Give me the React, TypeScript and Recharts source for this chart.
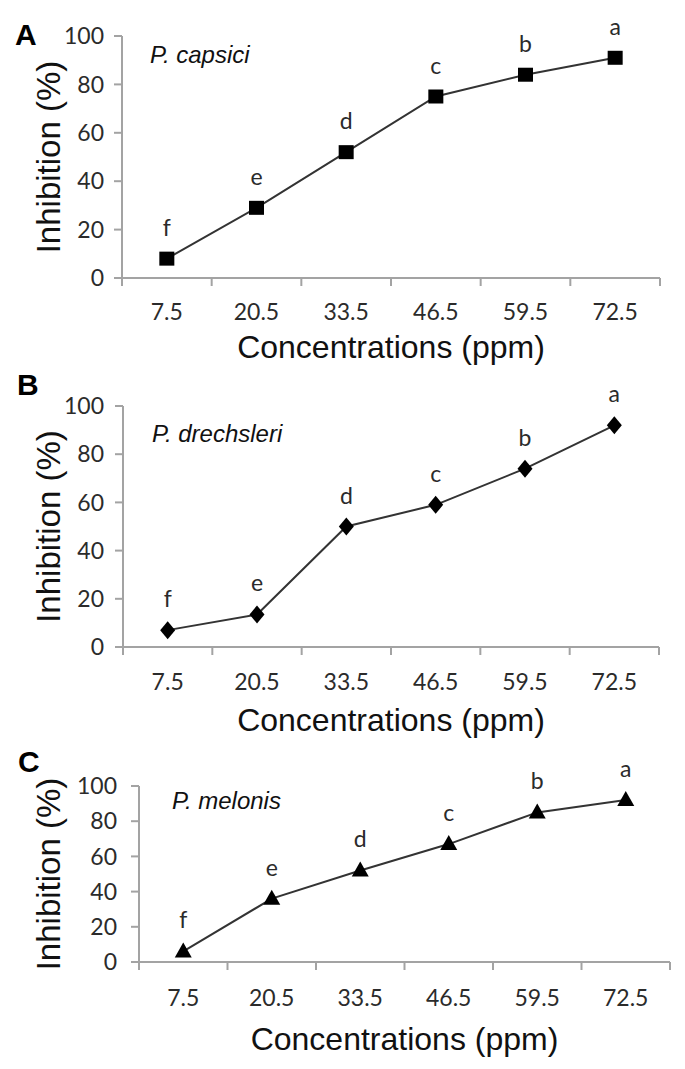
import React from 'react';
import { LineChart, Line, XAxis, YAxis, LabelList, Label } from 'recharts';

// values
const concentrations = ['7.5', '20.5', '33.5', '46.5', '59.5', '72.5'];
const capsiciInhibition = [8, 29, 52, 75, 84, 91];
const drechsleriInhibition = [7, 13.5, 50, 59, 74, 92];
const melonisInhibition = [6, 36, 52, 67, 85, 92];
const groupLetters = ['f', 'e', 'd', 'c', 'b', 'a'];
const yTicks = [0, 20, 40, 60, 80, 100];

const AXIS_GRAY = '#a3a3a3';
const TEXT_DARK = '#2b2b2b';
const TICK_FONT = 'Lato, "Open Sans", sans-serif';
const TITLE_FONT = '"Liberation Sans", Arial, sans-serif';
const PAGE_W = 685;

const buildRows = (values: number[]) =>
  concentrations.map((conc, i) => ({ conc, value: values[i], letter: groupLetters[i] }));

type Shape = 'square' | 'diamond' | 'triangle';

const Marker = ({ cx, cy, shape }: { cx: number; cy: number; shape: Shape }) => {
  if (cx == null || cy == null) return null;
  if (shape === 'square') {
    return <rect x={cx - 7.5} y={cy - 7} width={15} height={14} fill="#000" />;
  }
  if (shape === 'diamond') {
    return <polygon points={`${cx},${cy - 9} ${cx + 7.5},${cy} ${cx},${cy + 9} ${cx - 7.5},${cy}`} fill="#000" />;
  }
  return <polygon points={`${cx},${cy - 9} ${cx + 8.5},${cy + 6} ${cx - 8.5},${cy + 6}`} fill="#000" />;
};

// category ticks sit between the bands, like the spreadsheet original
const XTick = (props: any) => {
  const { x, y, payload, index, band, labelDy } = props;
  const isLast = index === concentrations.length - 1;
  return (
    <g>
      <line x1={x - band / 2} x2={x - band / 2} y1={y} y2={y + 8} stroke={AXIS_GRAY} strokeWidth={2} />
      {isLast && <line x1={x + band / 2} x2={x + band / 2} y1={y} y2={y + 8} stroke={AXIS_GRAY} strokeWidth={2} />}
      <text x={x} y={y + labelDy} textAnchor="middle" fill={TEXT_DARK} fontSize={23} fontFamily={TICK_FONT}>
        {payload.value}
      </text>
    </g>
  );
};

interface PanelProps {
  values: number[];
  shape: Shape;
  top: number;
  height: number;
  marginTop: number;
  marginBottom: number;
  yAxisWidth: number;
  marginRight: number;
  xAxisHeight: number;
  tickMargin: number;
  tickLabelDy: number;
  titleDy: number;
  yTitleX: number;
}

const Panel = (p: PanelProps) => {
  const band = (PAGE_W - p.yAxisWidth - p.marginRight) / concentrations.length;
  return (
    <div style={{ position: 'absolute', left: 0, top: p.top }}>
      <LineChart
        width={PAGE_W}
        height={p.height}
        data={buildRows(p.values)}
        margin={{ top: p.marginTop, right: p.marginRight, left: 0, bottom: p.marginBottom }}
      >
        <XAxis
          dataKey="conc"
          height={p.xAxisHeight}
          interval={0}
          padding={{ left: band / 2, right: band / 2 }}
          tickSize={0}
          tickMargin={0}
          tickLine={false}
          axisLine={{ stroke: AXIS_GRAY, strokeWidth: 2 }}
          tick={(tp: any) => <XTick {...tp} band={band} labelDy={p.tickLabelDy} />}
        >
          <Label
            content={({ viewBox }: any) => (
              <text
                x={viewBox.x + viewBox.width / 2}
                y={viewBox.y + p.titleDy}
                textAnchor="middle"
                fill="#111"
                fontSize={32}
                fontFamily={TITLE_FONT}
              >
                Concentrations (ppm)
              </text>
            )}
          />
        </XAxis>
        <YAxis
          type="number"
          domain={[0, 100]}
          ticks={yTicks}
          interval={0}
          width={p.yAxisWidth}
          tickSize={8}
          tickMargin={p.tickMargin}
          axisLine={{ stroke: AXIS_GRAY, strokeWidth: 2 }}
          tickLine={{ stroke: AXIS_GRAY, strokeWidth: 2 }}
          tick={{ fill: TEXT_DARK, fontSize: 23, fontFamily: TICK_FONT }}
        >
          <Label
            content={({ viewBox }: any) => {
              const cy = viewBox.y + viewBox.height / 2;
              return (
                <text
                  x={p.yTitleX}
                  y={cy}
                  transform={`rotate(-90 ${p.yTitleX} ${cy})`}
                  textAnchor="middle"
                  fill="#111"
                  fontSize={33}
                  fontFamily={TITLE_FONT}
                >
                  Inhibition (%)
                </text>
              );
            }}
          />
        </YAxis>
        <Line
          type="linear"
          dataKey="value"
          stroke="#333"
          strokeWidth={2}
          isAnimationActive={false}
          dot={(dp: any) => <Marker key={dp.index} cx={dp.cx} cy={dp.cy} shape={p.shape} />}
          activeDot={false}
        >
          <LabelList dataKey="letter" position="top" offset={23} fill={TEXT_DARK} fontSize={23} fontFamily={TICK_FONT} />
        </Line>
      </LineChart>
    </div>
  );
};

const App = () => (
  <div style={{ position: 'absolute', left: 0, top: 0, width: PAGE_W, height: 1069, background: '#fff' }}>
    <Panel
      values={capsiciInhibition}
      shape="square"
      top={0}
      height={370}
      marginTop={36}
      marginBottom={0}
      yAxisWidth={122}
      marginRight={25}
      xAxisHeight={92}
      tickMargin={10}
      tickLabelDy={42}
      titleDy={80}
      yTitleX={60}
    />
    <Panel
      values={drechsleriInhibition}
      shape="diamond"
      top={370}
      height={380}
      marginTop={36}
      marginBottom={20}
      yAxisWidth={123}
      marginRight={26}
      xAxisHeight={83}
      tickMargin={11}
      tickLabelDy={43}
      titleDy={84}
      yTitleX={60}
    />
    <Panel
      values={melonisInhibition}
      shape="triangle"
      top={730}
      height={339}
      marginTop={56}
      marginBottom={0}
      yAxisWidth={139}
      marginRight={15}
      xAxisHeight={107}
      tickMargin={14}
      tickLabelDy={44}
      titleDy={88}
      yTitleX={60}
    />
    <svg width={PAGE_W} height={1069} style={{ position: 'absolute', left: 0, top: 0, pointerEvents: 'none' }}>
      <g fontFamily={TITLE_FONT} fontWeight="bold" fontSize={30} fill="#000">
        <text x={15} y={45}>A</text>
        <text x={17} y={395}>B</text>
        <text x={18} y={772}>C</text>
      </g>
      <g fontFamily={TITLE_FONT} fontStyle="italic" fontSize={24} fill="#111">
        <text x={150} y={63}>P. capsici</text>
        <text x={152} y={442}>P. drechsleri</text>
        <text x={172} y={809}>P. melonis</text>
      </g>
    </svg>
  </div>
);

export default App;
